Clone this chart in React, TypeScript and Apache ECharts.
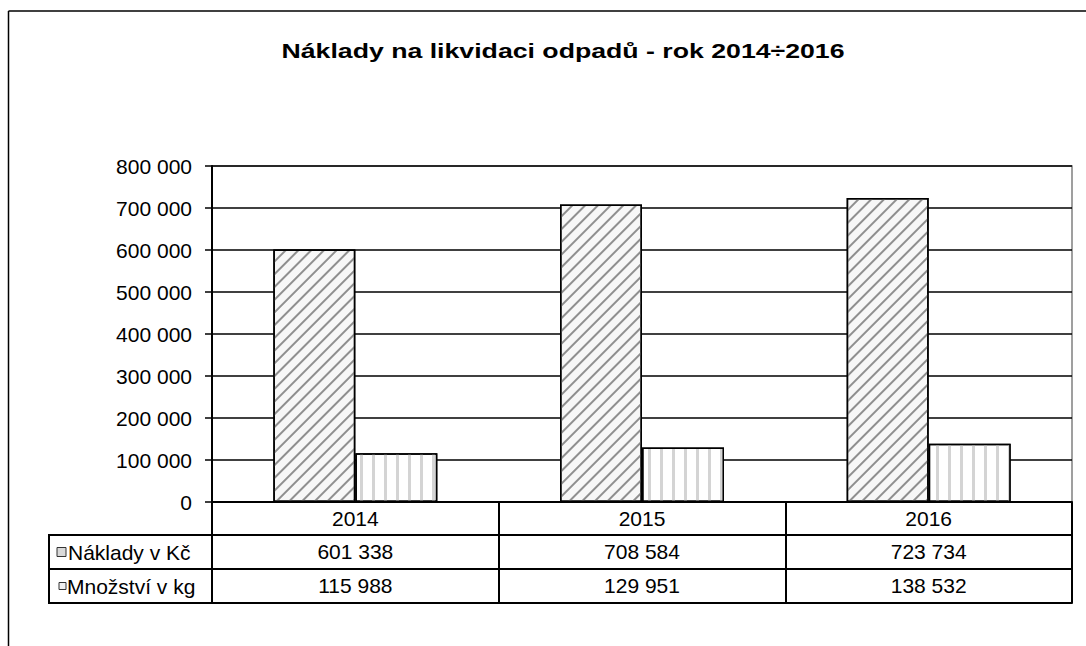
import React, { useEffect, useRef } from "react";
import * as echarts from "echarts";

const categories = ["2014", "2015", "2016"];
const naklady = [601338, 708584, 723734];
const mnozstvi = [115988, 129951, 138532];
const seriesNames = ["Náklady v Kč", "Množství v kg"];
const titleText = "Náklady na likvidaci odpadů - rok 2014÷2016";

const FONT = "'Liberation Sans', Arial, sans-serif";
const fmt = (n: number) => String(n).replace(/\B(?=(\d{3})+(?!\d))/g, " ");

export default function App() {
  const ref = useRef<HTMLDivElement>(null);
  useEffect(() => {
    if (!ref.current) return;
    const chart = echarts.init(ref.current, null, { renderer: "svg" });
    const tableAxis = (offset: number, values: number[] | null, tickLen: number, showTick = true, showLabel = true) => ({
      type: "category",
      data: categories,
      position: "bottom",
      offset,
      axisLine: { show: true, lineStyle: { color: "#000", width: 2 } },
      axisTick: { show: showTick, length: tickLen, interval: 0, lineStyle: { color: "#000", width: 2 } },
      axisLabel: {
        show: showLabel,
        interval: 0,
        margin: 5,
        fontSize: 21,
        lineHeight: 22,
        color: "#000",
        fontFamily: FONT,
        formatter: (v: string, i: number) => (values ? fmt(values[i]) : v),
      },
      splitLine: { show: false },
    });
    chart.setOption({
      animation: false,
      backgroundColor: "#fff",
      grid: {
        left: 212,
        top: 166,
        right: 14,
        bottom: 144,
        show: true,
        borderColor: "#808080",
        borderWidth: 1.5,
        backgroundColor: "transparent",
      },
      xAxis: [
        tableAxis(0, null, 33),
        tableAxis(33, naklady, 34),
        tableAxis(67, mnozstvi, 34),
        tableAxis(101, null, 0, false, false),
      ],
      yAxis: {
        type: "value",
        min: 0,
        max: 800000,
        interval: 100000,
        axisLine: { show: true, lineStyle: { color: "#000", width: 2 } },
        axisTick: { show: true, length: 7, lineStyle: { color: "#000", width: 1.5 } },
        axisLabel: { margin: 20, fontSize: 21, color: "#000", fontFamily: FONT, formatter: (v: number) => fmt(v) },
        splitLine: { show: true, lineStyle: { color: "#000", width: 1.5 } },
      },
      series: [
        {
          name: seriesNames[0],
          type: "bar",
          data: naklady,
          barWidth: 82,
          barGap: "0%",
          itemStyle: {
            color: "#f7f7f7",
            borderColor: "#000",
            borderWidth: 1.5,
            decal: {
              symbol: "rect",
              symbolSize: 1,
              dashArrayX: [1, 0],
              dashArrayY: [1.2, 6.6],
              rotation: -Math.PI / 4,
              color: "#8f8f8f",
            },
          },
        },
        {
          name: seriesNames[1],
          type: "bar",
          data: mnozstvi,
          barWidth: 82,
          barGap: "0%",
          itemStyle: {
            color: "#ffffff",
            borderColor: "#000",
            borderWidth: 1.5,
            decal: {
              symbol: "rect",
              symbolSize: 1,
              dashArrayX: [3, 8.7],
              dashArrayY: [1, 0],
              rotation: 0,
              color: "#d4d4d4",
            },
          },
        },
      ],
      graphic: [
        { type: "line", shape: { x1: 8.5, y1: 11, x2: 1086, y2: 11 }, style: { stroke: "#000", lineWidth: 1.5 } },
        { type: "line", shape: { x1: 8.5, y1: 11, x2: 8.5, y2: 646 }, style: { stroke: "#000", lineWidth: 1.5 } },
        {
          type: "text",
          x: 563,
          y: 51,
          scaleX: 1.27,
          scaleY: 1,
          style: {
            text: titleText,
            fontSize: 21,
            fontWeight: "bold",
            fontFamily: FONT,
            fill: "#000",
            align: "center",
            verticalAlign: "middle",
          },
        },
        { type: "rect", shape: { x: 49, y: 535, width: 163, height: 68 }, style: { fill: "none", stroke: "#000", lineWidth: 2 } },
        { type: "line", shape: { x1: 49, y1: 569, x2: 212, y2: 569 }, style: { stroke: "#000", lineWidth: 2 } },
        { type: "rect", shape: { x: 57, y: 547.5, width: 9, height: 9 }, style: { fill: "#d9d9d9", stroke: "#333", lineWidth: 1 } },
        { type: "rect", shape: { x: 59, y: 582.5, width: 7, height: 7 }, style: { fill: "#f0f0f0", stroke: "#333", lineWidth: 1 } },
        {
          type: "text",
          x: 68,
          y: 552,
          style: { text: seriesNames[0], fontSize: 21, fontFamily: FONT, fill: "#000", verticalAlign: "middle", align: "left" },
        },
        {
          type: "text",
          x: 67,
          y: 586,
          style: { text: seriesNames[1], fontSize: 21, fontFamily: FONT, fill: "#000", verticalAlign: "middle", align: "left" },
        },
      ],
    });
    return () => chart.dispose();
  }, []);
  return <div ref={ref} style={{ position: "absolute", left: 0, top: 0, width: 1086, height: 646 }} />;
}
